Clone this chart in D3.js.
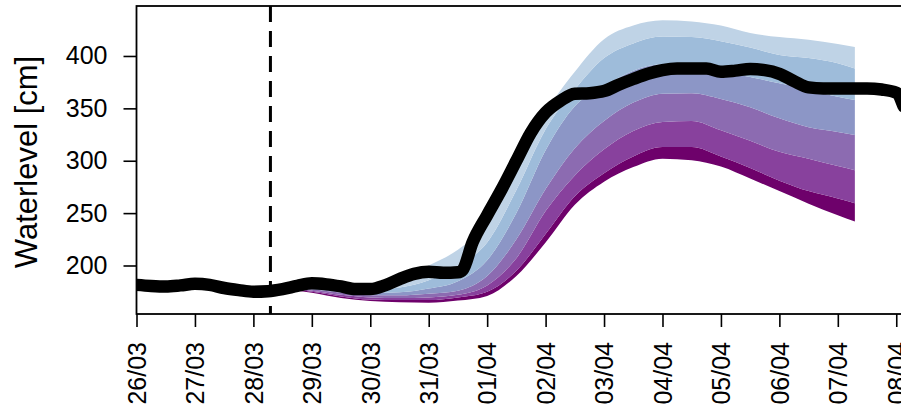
<!DOCTYPE html>
<html>
<head>
<meta charset="utf-8">
<script src="https://cdn.jsdelivr.net/npm/d3@7"></script>
<style>
  body { margin: 0; background: #fff; }
  svg { display: block; font-family: "Liberation Sans", Arial, sans-serif; }
</style>
</head>
<body>
<svg id="chart"></svg>
<script>
var width = 901;
var height = 414;

// observed water level [cm], 6-hourly (year is arbitrary, only day/month shown)
var obsTimes = [
  "2024-03-26T00:00", "2024-03-26T06:00", "2024-03-26T12:00", "2024-03-26T18:00",
  "2024-03-27T00:00", "2024-03-27T06:00", "2024-03-27T12:00", "2024-03-27T18:00",
  "2024-03-28T00:00", "2024-03-28T06:00", "2024-03-28T12:00", "2024-03-28T18:00",
  "2024-03-29T00:00", "2024-03-29T06:00", "2024-03-29T12:00", "2024-03-29T18:00",
  "2024-03-30T00:00", "2024-03-30T06:00", "2024-03-30T12:00", "2024-03-30T18:00",
  "2024-03-31T00:00", "2024-03-31T06:00", "2024-03-31T12:00", "2024-03-31T14:00",
  "2024-03-31T18:00", "2024-04-01T00:00", "2024-04-01T06:00", "2024-04-01T12:00",
  "2024-04-01T18:00", "2024-04-02T00:00", "2024-04-02T06:00", "2024-04-02T12:00",
  "2024-04-02T18:00", "2024-04-03T00:00", "2024-04-03T06:00", "2024-04-03T12:00",
  "2024-04-03T18:00", "2024-04-04T00:00", "2024-04-04T06:00", "2024-04-04T12:00",
  "2024-04-04T18:00", "2024-04-05T00:00", "2024-04-05T06:00", "2024-04-05T12:00",
  "2024-04-05T18:00", "2024-04-06T00:00", "2024-04-06T06:00", "2024-04-06T12:00",
  "2024-04-06T18:00", "2024-04-07T00:00", "2024-04-07T06:00", "2024-04-07T12:00",
  "2024-04-07T18:00", "2024-04-08T00:00", "2024-04-08T03:00"
];
var obsLevel = [
  181.5, 180.5, 180, 181,
  182.5, 181.5, 178.5, 176.5,
  175, 175.5, 177.5, 180.5,
  183, 182, 180, 177.5,
  177.5, 181, 187, 192,
  194, 193, 193.5, 196,
  222, 248, 273, 300,
  327, 346, 357, 364,
  364.5, 366.5, 372.5, 378,
  383, 386.5, 388, 388,
  388, 385, 386, 387.5,
  386.5, 383, 376, 370,
  369, 369, 369, 369,
  368, 365, 352
];

// forecast issue time (dashed line) and forecast quantile boundaries
var forecastStart = "2024-03-28T07:00";
var fcTimes = [
  "2024-03-28T07:00", "2024-03-28T18:00", "2024-03-29T00:00", "2024-03-29T12:00",
  "2024-03-30T00:00", "2024-03-30T12:00", "2024-03-31T00:00", "2024-03-31T12:00",
  "2024-04-01T00:00", "2024-04-01T12:00", "2024-04-02T00:00", "2024-04-02T12:00",
  "2024-04-03T00:00", "2024-04-03T12:00", "2024-04-04T00:00", "2024-04-04T12:00",
  "2024-04-05T00:00", "2024-04-05T12:00", "2024-04-06T00:00", "2024-04-06T12:00",
  "2024-04-07T00:00", "2024-04-07T07:00"
];
var q0 = [177, 176, 174, 169, 166, 165, 164.5, 166.5, 171, 190, 222, 258, 280, 294, 302, 300.5, 294.5, 283, 271, 259, 248, 242];
var q1 = [177, 176.5, 175, 170.5, 167.5, 167, 167, 169.5, 175, 195, 230, 266, 288, 304, 313, 313, 304, 293, 281, 271, 264, 259.5];
var q2 = [177, 177, 176, 172, 169.5, 169, 169.5, 172, 181, 207, 252, 286, 311, 328.5, 337, 338, 329, 319, 308.5, 302, 295, 291];
var q3 = [177, 177.5, 177, 174, 171.5, 171.5, 173, 176, 190, 225, 273, 312, 338, 355.5, 364, 364.5, 359, 351, 340.5, 332, 327.5, 324.5];
var q4 = [177, 178, 178.5, 176, 174, 174.5, 178, 185, 205, 250, 310, 352, 371, 386, 392, 390, 385, 380, 374, 368, 361, 358];
var q5 = [177, 179, 180, 179, 177, 179, 186, 200, 222, 272, 330, 368, 398, 412, 418.5, 418, 414, 408, 401, 398, 393, 388];
var q6 = [177, 180, 182, 182, 181, 186, 200, 215, 240, 292, 346, 385, 416, 429, 434, 433, 429, 422, 418, 415.5, 411.5, 408.5];
var quantiles = [q0, q1, q2, q3, q4, q5, q6];
// band colours from lowest band to highest
var bandColors = ["#6e016b", "#88419d", "#8c6bb1", "#8c96c6", "#9ebcda", "#bfd3e6"];

var yTicks = [200, 250, 300, 350, 400];

var parse = d3.utcParse("%Y-%m-%dT%H:%M");
var margin = {top: 6, right: -5, bottom: 100, left: 136.5};
var plotW = width - margin.left - margin.right;
var plotH = height - margin.top - margin.bottom;

var x = d3.scaleUtc()
  .domain([parse("2024-03-26T00:00"), parse("2024-04-08T04:00")])
  .range([0, plotW]);
var y = d3.scaleLinear()
  .domain([153.7, 447.7])
  .range([plotH, 0]);

var svg = d3.select('#chart')
  .attr('width', width)
  .attr('height', height);

var g = svg.append('g')
  .attr('transform', `translate(${margin.left}, ${margin.top})`);

g.append('clipPath').attr('id', 'clip')
  .append('rect').attr('width', plotW).attr('height', plotH);

var plot = g.append('g').attr('clip-path', 'url(#clip)');

// fan of forecast quantile bands
var fcDates = fcTimes.map(parse);
for (let i = 0; i < bandColors.length; i++) {
  var lo = quantiles[i], hi = quantiles[i + 1];
  var area = d3.area()
    .x((d, k) => x(fcDates[k]))
    .y0((d, k) => y(lo[k]))
    .y1((d, k) => y(hi[k]))
    .curve(d3.curveMonotoneX);
  plot.append('path')
    .attr('d', area(fcDates))
    .attr('fill', bandColors[i]);
}

// observed series, drawn as a thick black trace
var obs = obsTimes.map((t, i) => ({t: parse(t), v: obsLevel[i]}));
var line = d3.line()
  .x(d => x(d.t))
  .y(d => y(d.v))
  .curve(d3.curveMonotoneX);
plot.append('path')
  .datum(obs)
  .attr('d', line)
  .attr('fill', 'none')
  .attr('stroke', '#000')
  .attr('stroke-width', 12.5)
  .attr('stroke-linejoin', 'round')
  .attr('stroke-linecap', 'round');

// forecast issue time
g.append('line')
  .attr('x1', x(parse(forecastStart)))
  .attr('x2', x(parse(forecastStart)))
  .attr('y1', 0)
  .attr('y2', plotH)
  .attr('stroke', '#000')
  .attr('stroke-width', 3)
  .attr('stroke-dasharray', '16,9');

// frame
g.append('rect')
  .attr('width', plotW)
  .attr('height', plotH)
  .attr('fill', 'none')
  .attr('stroke', '#000')
  .attr('stroke-width', 1.8);

// y axis
var yAxis = g.append('g')
  .call(d3.axisLeft(y).tickValues(yTicks).tickSize(13).tickPadding(16));
yAxis.select('.domain').remove();
yAxis.selectAll('line').attr('stroke-width', 1.6);
yAxis.selectAll('text')
  .attr('font-size', 25)
  .attr('font-family', '"Liberation Sans", Arial, sans-serif')
  .attr('fill', '#000');

// x axis, one tick per day
var days = d3.utcDay.range(parse("2024-03-26T00:00"), parse("2024-04-08T01:00"));
var xAxis = g.append('g')
  .attr('transform', `translate(0, ${plotH})`)
  .call(d3.axisBottom(x).tickValues(days).tickSize(13).tickFormat(d3.utcFormat('%d/%m')));
xAxis.select('.domain').remove();
xAxis.selectAll('line').attr('stroke-width', 1.6);
xAxis.selectAll('text')
  .attr('font-size', 25)
  .attr('font-family', '"Liberation Sans", Arial, sans-serif')
  .attr('fill', '#000')
  .attr('text-anchor', 'end')
  .attr('dy', '0.35em')
  .attr('transform', 'translate(0, 28) rotate(-90)')
  .attr('x', 0)
  .attr('y', 0);

// y axis title
svg.append('text')
  .attr('transform', 'translate(37, 162) rotate(-90)')
  .attr('text-anchor', 'middle')
  .attr('font-size', 31)
  .attr('fill', '#000')
  .text('Waterlevel [cm]');
</script>
</body>
</html>
